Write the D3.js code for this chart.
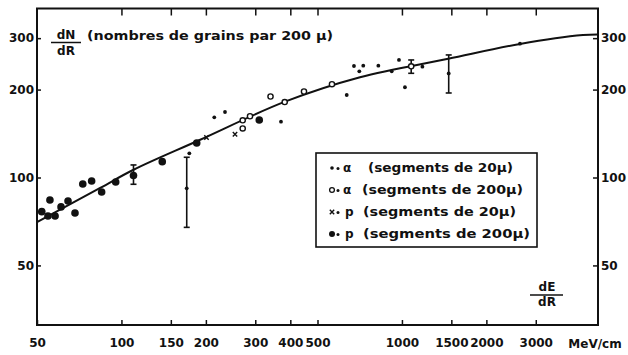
<!DOCTYPE html>
<html><head><meta charset="utf-8">
<script src="https://cdn.jsdelivr.net/npm/d3@7"></script>
<style>
body{margin:0;background:#fff;}
text{font-family:"DejaVu Sans",sans-serif;font-weight:bold;fill:#111;}
</style></head>
<body><svg id="c" width="628" height="355"></svg>
<script>
// ---- data ----
const xTicks = [50,100,150,200,300,400,500,1000,1500,2000,3000];
const topTicks = [100,150,200,300,400,500,1000,1500,2000,3000];
const yTicks = [50,100,200,300];
const curveE = [50,84,110,190,383,709,1462,2635,4420,5000];
const curveN = [70.4,92.1,106.1,134.4,181.8,220.4,255,286.6,307.6,309];
// p, segments de 200 µ (large dots)
const p200E = [52.0,54.7,58.0,55.6,60.9,64.5,68.3,72.8,78.3,85.0,95.4,110.4,139.8,185.5,310];
const p200N = [76.4,73.8,73.8,83.7,79.3,83.1,75.6,95.0,97.3,89.2,96.5,101.6,113.3,131.3,157.4];
// alpha, segments de 20 µ (small dots)
const a20E = [174.6,170.9,214.3,234,370.5,635.6,674.5,704.7,728,824,919.6,976,1025,1183,1468,2635];
const a20N = [121,91.8,160.7,167.6,155.3,191.6,240.9,231,241.5,241.5,231,252.6,203.7,239.6,227.1,287.2];
// alpha, segments de 200 µ (open circles)
const a200E = [270.6,270.6,287.3,340,382,447.5,563,1079];
const a200N = [147.2,157,162.1,189.4,181.3,197,208.7,240.3];
// p, segments de 20 µ (crosses)
const p20E = [254,201];
const p20N = [140.6,137.1];
// error bars
const errE = [110.4,170.9,1079,1468];
const errLo = [94.8,67.5,227.4,194.7];
const errHi = [110.4,117.3,252.6,262.8];
const legendLabels = ["(segments de 20μ)","(segments de 200μ)","(segments de 20μ)","(segments de 200μ)"];
const legendSym = ["α","α","p","p"];

// ---- chart ----
const svg = d3.select("#c");
const L=37,R=598,T=8.5,B=325;
const x = d3.scaleLog().domain([50,5000]).range([L,R]);
const y = d3.scaleLog().domain([31.26,379]).range([B,T]);

function clean(g){g.select(".domain").remove(); g.selectAll(".tick line").attr("stroke","#111").attr("stroke-width",1.5);}
function font(g){g.selectAll("text").attr("font-size",12).attr("font-family","DejaVu Sans").attr("font-weight","bold").attr("fill","#111");}

svg.append("g").attr("transform",`translate(0,${B})`)
  .call(d3.axisBottom(x).tickValues(xTicks).tickSize(-5).tickPadding(13).tickFormat(d3.format("d")))
  .call(clean).call(font);
svg.append("g").attr("transform",`translate(0,${T})`)
  .call(d3.axisTop(x).tickValues(topTicks).tickSize(-7).tickFormat(""))
  .call(clean);
svg.append("g").attr("transform",`translate(${L},0)`)
  .call(d3.axisLeft(y).tickValues(yTicks).tickSize(-4).tickPadding(3).tickFormat(d3.format("d")))
  .call(clean).call(font);
svg.append("g").attr("transform",`translate(${R},0)`)
  .call(d3.axisRight(y).tickValues(yTicks).tickSize(-5).tickPadding(3).tickFormat(d3.format("d")))
  .call(clean).call(font);

svg.append("rect").attr("x",L).attr("y",T).attr("width",R-L).attr("height",B-T)
  .attr("fill","none").attr("stroke","#111").attr("stroke-width",2);

svg.append("text").attr("x",595).attr("y",347.5).attr("text-anchor","middle").attr("font-size",12).text("MeV/cm");

// curve
const line = d3.line().x(d=>x(d[0])).y(d=>y(d[1])).curve(d3.curveCatmullRom.alpha(0.5));
svg.append("path").datum(curveE.map((e,i)=>[e,curveN[i]]))
  .attr("d",line).attr("fill","none").attr("stroke","#111").attr("stroke-width",2);

// error bars
errE.forEach((e,i)=>{
  const g=svg.append("g").attr("stroke","#111").attr("stroke-width",1.6);
  g.append("line").attr("x1",x(e)).attr("x2",x(e)).attr("y1",y(errLo[i])).attr("y2",y(errHi[i]));
  [errLo[i],errHi[i]].forEach(v=>g.append("line").attr("x1",x(e)-3).attr("x2",x(e)+3).attr("y1",y(v)).attr("y2",y(v)));
});

// markers
function dots(E,N,r,fill){
  svg.append("g").selectAll("circle").data(E.map((e,i)=>[e,N[i]])).join("circle")
   .attr("cx",d=>x(d[0])).attr("cy",d=>y(d[1])).attr("r",r)
   .attr("fill",fill?"#111":"#fff").attr("stroke","#111").attr("stroke-width",fill?0:1.4);
}
dots(p200E,p200N,3.8,true);
dots(a20E,a20N,1.9,true);
dots(a200E,a200N,2.6,false);
svg.append("g").selectAll("path").data(p20E.map((e,i)=>[e,p20N[i]])).join("path")
  .attr("d",d=>{const cx=x(d[0]),cy=y(d[1]);return `M${cx-2.2},${cy-2.2}L${cx+2.2},${cy+2.2}M${cx-2.2},${cy+2.2}L${cx+2.2},${cy-2.2}`;})
  .attr("stroke","#111").attr("stroke-width",1.4);

// titles
svg.append("text").attr("x",66).attr("y",39).attr("text-anchor","middle").attr("font-size",12).text("dN");
svg.append("line").attr("x1",51).attr("x2",81).attr("y1",42.5).attr("y2",42.5).attr("stroke","#111").attr("stroke-width",1.5);
svg.append("text").attr("x",66).attr("y",55).attr("text-anchor","middle").attr("font-size",12).text("dR");
svg.append("text").attr("x",87).attr("y",40).attr("font-size",12).attr("textLength",246).attr("lengthAdjust","spacingAndGlyphs").text("(nombres de grains par 200 μ)");

svg.append("text").attr("x",547).attr("y",291).attr("text-anchor","middle").attr("font-size",12).text("dE");
svg.append("line").attr("x1",530).attr("x2",563).attr("y1",295).attr("y2",295).attr("stroke","#111").attr("stroke-width",1.5);
svg.append("text").attr("x",547).attr("y",306).attr("text-anchor","middle").attr("font-size",12).text("dR");

// legend
const lg=svg.append("g");
lg.append("rect").attr("x",316).attr("y",153).attr("width",221).attr("height",94).attr("fill","#fff").attr("stroke","#111").attr("stroke-width",1.6);
const rowY=[168,190,212,234];
const txtX=[368,362,363,363];
const txtW=[145,161,153,167];
rowY.forEach((ry,i)=>{
  const mx=332;
  if(i===0){lg.append("circle").attr("cx",mx).attr("cy",ry).attr("r",1.8).attr("fill","#111");}
  if(i===1){lg.append("circle").attr("cx",mx).attr("cy",ry).attr("r",2.4).attr("fill","#fff").attr("stroke","#111").attr("stroke-width",1.3);}
  if(i===2){lg.append("path").attr("d",`M${mx-2.2},${ry-2.2}L${mx+2.2},${ry+2.2}M${mx-2.2},${ry+2.2}L${mx+2.2},${ry-2.2}`).attr("stroke","#111").attr("stroke-width",1.4);}
  if(i===3){lg.append("circle").attr("cx",mx).attr("cy",ry).attr("r",3).attr("fill","#111");}
  lg.append("circle").attr("cx",mx+6).attr("cy",ry+0.5).attr("r",1.5).attr("fill","#111");
  lg.append("text").attr("x",i<2?343:345).attr("y",ry+4).attr("font-size",12).text(legendSym[i]);
  lg.append("text").attr("x",txtX[i]).attr("y",ry+4).attr("font-size",12).attr("textLength",txtW[i]).attr("lengthAdjust","spacingAndGlyphs").text(legendLabels[i]);
});
</script></body></html>
